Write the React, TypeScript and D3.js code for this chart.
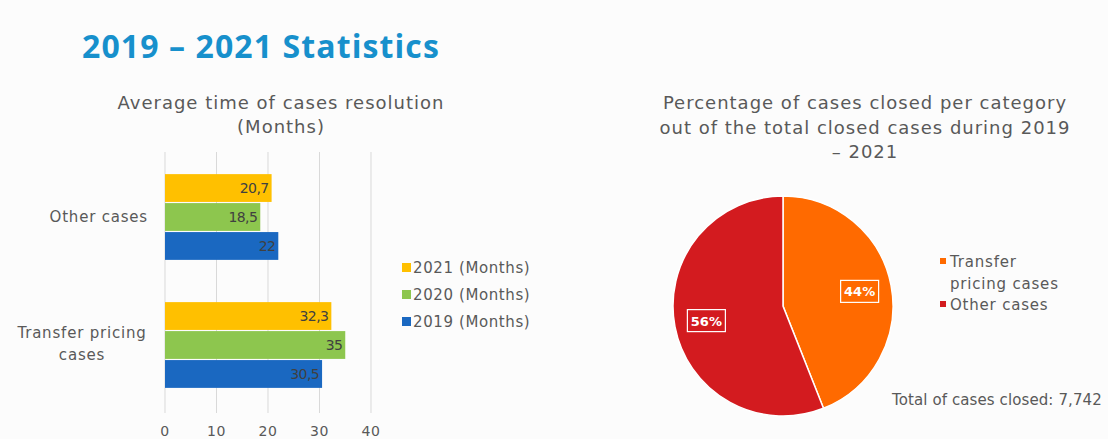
import * as d3 from 'd3';

// bar chart data
const categories = ['Other cases', 'Transfer pricing cases'];
const seriesNames = ['2021 (Months)', '2020 (Months)', '2019 (Months)'];
const values2021 = [20.7, 32.3];
const values2020 = [18.5, 35];
const values2019 = [22, 30.5];
const valueLabels2021 = ['20,7', '32,3'];
const valueLabels2020 = ['18,5', '35'];
const valueLabels2019 = ['22', '30,5'];
const xTicks = [0, 10, 20, 30, 40];

// pie data
const pieCategories = ['Transfer pricing cases', 'Other cases'];
const pieValues = [44, 56];
const totalClosed = '7,742';

const seriesColors = ['#ffc000', '#8dc64e', '#1a68c1'];
const pieColors = ['#ff6a00', '#d31b1f'];
const FONT = '"DejaVu Sans", Verdana, sans-serif';
const TITLE_FONT = '"Open Sans", "DejaVu Sans", sans-serif';
const TEXT = '#595959';

export default function App() {
	const W = 1108;
	const H = 439;

	// ---- bar chart scales ----
	const x = d3.scaleLinear().domain([0, 40]).range([165, 371]);
	const y = d3.scaleBand<string>().domain(categories).range([153, 409]).paddingInner(0.33).paddingOuter(0.165);
	const ySub = d3.scaleBand<string>().domain(seriesNames).range([0, y.bandwidth()]).paddingInner(0.04);
	const series = [
		{ name: seriesNames[0], values: values2021, labels: valueLabels2021, color: seriesColors[0] },
		{ name: seriesNames[1], values: values2020, labels: valueLabels2020, color: seriesColors[1] },
		{ name: seriesNames[2], values: values2019, labels: valueLabels2019, color: seriesColors[2] },
	];

	// ---- pie ----
	const cx = 783;
	const cy = 306;
	const r = 110;
	const pie = d3.pie<number>().sort(null)(pieValues);
	const arc = d3.arc<d3.PieArcDatum<number>>().innerRadius(0).outerRadius(r);
	const labelArc = d3.arc<d3.PieArcDatum<number>>().innerRadius(78).outerRadius(78);

	const head = { fontSize: 18, fill: TEXT, letterSpacing: 1, textAnchor: 'middle' as const };
	const body = { fontSize: 15, fill: TEXT, letterSpacing: 0.8 };

	return (
		<div style={{ position: 'absolute', left: 0, top: 0 }}>
			<svg width={W} height={H} style={{ display: 'block', fontFamily: FONT }}>
				<rect width={W} height={H} fill="#fcfcfc" />

				<text x={82} y={58} fontSize={32} fontWeight={700} fill="#1790cc" fontFamily={TITLE_FONT} letterSpacing={1.1}>
					2019 – 2021 Statistics
				</text>

				{/* bar chart title */}
				<text x={281} y={109} {...head}>
					Average time of cases resolution
				</text>
				<text x={281} y={133} {...head}>
					(Months)
				</text>

				{/* gridlines */}
				{xTicks.map((t) => (
					<line key={t} x1={x(t)} x2={x(t)} y1={152} y2={413} stroke="#d9d9d9" strokeWidth={1} />
				))}
				{xTicks.map((t) => (
					<text key={'t' + t} x={x(t)} y={436} textAnchor="middle" fontSize={14} fill={TEXT} letterSpacing={0.6}>
						{t}
					</text>
				))}

				{/* bars */}
				{categories.map((c, ci) =>
					series.map((s) => {
						const y0 = (y(c) ?? 0) + (ySub(s.name) ?? 0);
						const h = ySub.bandwidth();
						return (
							<g key={c + s.name}>
								<rect x={x(0)} y={y0} width={x(s.values[ci]) - x(0)} height={h} fill={s.color} />
								<text x={x(s.values[ci]) - 3} y={y0 + h / 2 + 5} textAnchor="end" fontSize={14} fill="#404040" letterSpacing={-0.6}>
									{s.labels[ci]}
								</text>
							</g>
						);
					})
				)}

				{/* category labels */}
				<text x={148} y={(y(categories[0]) ?? 0) + y.bandwidth() / 2 + 5} textAnchor="end" {...body}>
					Other cases
				</text>
				<text x={82} y={(y(categories[1]) ?? 0) + y.bandwidth() / 2 - 7} textAnchor="middle" {...body}>
					Transfer pricing
				</text>
				<text x={82} y={(y(categories[1]) ?? 0) + y.bandwidth() / 2 + 15} textAnchor="middle" {...body}>
					cases
				</text>

				{/* bar legend */}
				{series.map((s, i) => (
					<g key={s.name} transform={`translate(402, ${273 + i * 27})`}>
						<rect x={0} y={-10} width={9} height={9} fill={s.color} />
						<text x={11} y={0} {...body} letterSpacing={0.6}>
							{s.name}
						</text>
					</g>
				))}

				{/* pie title */}
				<text x={865} y={109} {...head}>
					Percentage of cases closed per category
				</text>
				<text x={865} y={134} {...head}>
					out of the total closed cases during 2019
				</text>
				<text x={865} y={158} {...head}>
					– 2021
				</text>

				{/* pie */}
				<g transform={`translate(${cx}, ${cy})`}>
					{pie.map((d, i) => (
						<path key={i} d={arc(d) ?? ''} fill={pieColors[i]} stroke="#ffffff" strokeWidth={1.5} />
					))}
					{pie.map((d, i) => {
						const [lx, ly] = labelArc.centroid(d);
						return (
							<g key={'l' + i} transform={`translate(${lx}, ${ly})`}>
								<rect x={-19} y={-11} width={38} height={22} fill="none" stroke="#ffffff" strokeWidth={1.2} />
								<text x={0} y={5} textAnchor="middle" fontSize={13} fontWeight={700} fill="#ffffff">
									{d.data}%
								</text>
							</g>
						);
					})}
				</g>

				{/* pie legend */}
				<rect x={940} y={258} width={6} height={6} fill={pieColors[0]} />
				<text x={950} y={267} {...body}>
					Transfer
				</text>
				<text x={950} y={289} {...body}>
					pricing cases
				</text>
				<rect x={940} y={301} width={6} height={6} fill={pieColors[1]} />
				<text x={950} y={310} {...body}>
					{pieCategories[1]}
				</text>

				<text x={892} y={405} {...body} letterSpacing={0.1}>
					Total of cases closed: {totalClosed}
				</text>
			</svg>
		</div>
	);
}
